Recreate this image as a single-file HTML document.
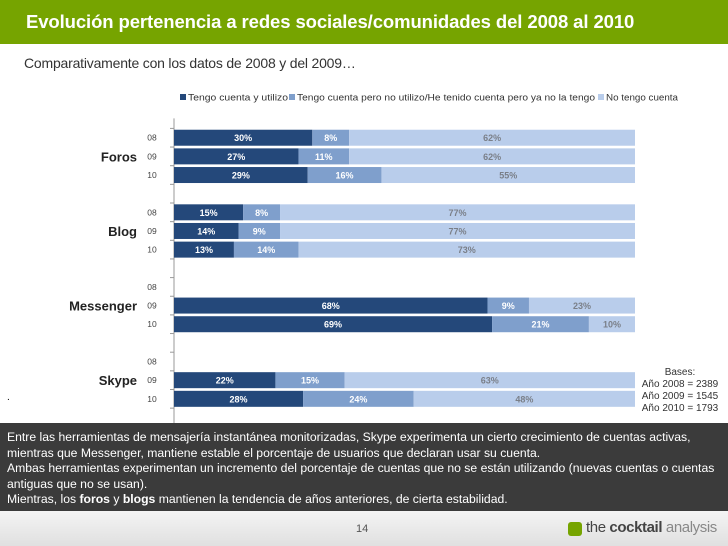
<!DOCTYPE html>
<html><head><meta charset="utf-8"><style>
body{margin:0;width:728px;height:546px;overflow:hidden;background:#fff;font-family:"Liberation Sans",sans-serif;position:relative}
.hdr{position:absolute;left:0;top:0;width:728px;height:44px;background:#76a400}
.hdr span{position:absolute;left:26px;top:11px;color:#fff;font-size:18.5px;font-weight:bold;letter-spacing:-0.1px}
.sub{position:absolute;left:24px;top:55px;font-size:14px;color:#333;letter-spacing:-0.2px}
.box{position:absolute;left:0;top:423px;width:728px;height:88px;background:#3b3b3b;color:#fff;font-size:12.2px;letter-spacing:0;line-height:15.5px;padding:7px 0 0 7px;box-sizing:border-box;white-space:nowrap;overflow:hidden}
.foot{position:absolute;left:0;top:511px;width:728px;height:35px;background:linear-gradient(#f4f4f4,#e0e0e0)}
</style></head><body>
<div class="hdr"><span>Evolución pertenencia a redes sociales/comunidades del 2008 al 2010</span></div>
<div class="sub">Comparativamente con los datos de 2008 y del 2009…</div>
<svg id="chart" width="728" height="546" style="position:absolute;left:0;top:0" font-family="Liberation Sans, sans-serif"></svg>
<div class="box">Entre las herramientas de mensajería instantánea monitorizadas, Skype experimenta un cierto crecimiento de cuentas activas,<br>mientras que Messenger, mantiene estable el porcentaje de usuarios que declaran usar su cuenta.<br>Ambas herramientas experimentan un incremento del porcentaje de cuentas que no se están utilizando (nuevas cuentas o cuentas<br>antiguas que no se usan).<br>Mientras, los <b>foros</b> y <b>blogs</b> mantienen la tendencia de años anteriores, de cierta estabilidad.</div>
<div class="foot">
<span style="position:absolute;left:356px;top:12px;font-size:11px;color:#555">14</span>
<span style="position:absolute;left:568px;top:11px;width:14px;height:14px;background:#76a400;border-radius:3px"></span>
<span style="position:absolute;left:586px;top:8px;font-size:15px;color:#444;letter-spacing:-0.4px">the <b>cocktail</b> <span style="color:#888">analysis</span></span>
</div>
<div style="position:absolute;left:640px;top:367px;width:80px;font-size:10px;line-height:12px;color:#333;text-align:center">Bases:<br>Año 2008 = 2389<br>Año 2009 = 1545<br>Año 2010 = 1793</div>
<div style="position:absolute;left:7px;top:392px;font-size:10px">.</div>
<script>
const groups=["Foros","Blog","Messenger","Skype"];
const years=["08","09","10"];
const useVals=[[30,27,29],[15,14,13],[null,68,69],[null,22,28]];
const unusedVals=[[8,11,16],[8,9,14],[null,9,21],[null,15,24]];
const noVals=[[62,62,55],[77,77,73],[null,23,10],[null,63,48]];
const seriesNames=["Tengo cuenta y utilizo","Tengo cuenta pero no utilizo/He tenido cuenta pero ya no la tengo","No tengo cuenta"];
const colors=["#24487a","#7f9fcc","#b9cdeb"];
const txtColors=["#fff","#fff","#7a7f88"];
const svg=document.getElementById('chart');const NS="http://www.w3.org/2000/svg";
function mk(t,a,p){const e=document.createElementNS(NS,t);for(const k in a)e.setAttribute(k,a[k]);(p||svg).appendChild(e);return e;}
const x0=174,x1=635,y0=128.4,slot=18.65,bh=16;
const xs=v=>x0+(x1-x0)*v/100;
const ys=(g,r)=>y0+(g*4+r)*slot;
const ax=mk('line',{x1:x0,y1:y0-10,x2:x0,y2:y0+16*slot,stroke:'#999'});

for(let i=0;i<=16;i++){const t=mk('line',{x1:x0-4,x2:x0,y1:y0+i*slot,y2:y0+i*slot,stroke:'#999'});
}
const series=[useVals,unusedVals,noVals];
groups.forEach((g,gi)=>{
 const gl=mk('text',{x:137,y:ys(gi,1)+slot/2+5,'text-anchor':'end','font-size':13,'font-weight':'bold',fill:'#222'});gl.textContent=g;
 
 years.forEach((yr,ri)=>{
  const yl=mk('text',{x:152,y:ys(gi,ri)+slot/2+3,'text-anchor':'middle','font-size':8.5,fill:'#444'});yl.textContent=yr;
  
  let acc=0;
  series.forEach((s,si)=>{const v=s[gi][ri];if(v==null)return;
   const by=ys(gi,ri)+(slot-bh)/2;
   const r=mk('rect',{x:xs(acc),y:by,width:xs(acc+v)-xs(acc),height:bh,fill:colors[si]});
   
   const t=mk('text',{x:(xs(acc)+xs(acc+v))/2,y:by+11.5,'text-anchor':'middle','font-size':9,'font-weight':'bold',fill:txtColors[si]});t.textContent=v+'%';
   
   acc+=v;});
 });
});
const lx=[180,289,598];
const lw=[100,298,72];
seriesNames.forEach((n,i)=>{
 const r=mk('rect',{x:lx[i],y:94,width:6,height:6,fill:colors[i]});
 
 const t=mk('text',{x:lx[i]+8,y:100.5,'font-size':9,fill:'#333',textLength:lw[i],lengthAdjust:'spacingAndGlyphs'});t.textContent=n;
 
});
</script>
</body></html>
